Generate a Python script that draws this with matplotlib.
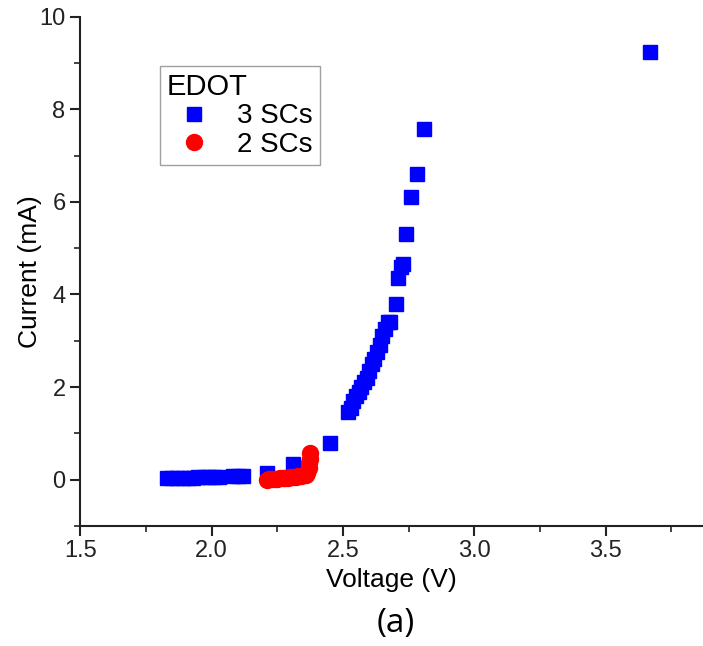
import numpy as np
import matplotlib.pyplot as plt
from matplotlib.ticker import MultipleLocator

plt.rcParams['font.family'] = ['Liberation Sans', 'DejaVu Sans']

# 3 SCs
v3 = [1.83, 1.85, 1.87, 1.89, 1.91, 1.93, 1.95, 1.97, 1.99, 2.01, 2.03,
      2.08, 2.10, 2.12, 2.21, 2.31, 2.45,
      2.52, 2.53, 2.54, 2.55, 2.56, 2.57, 2.58, 2.59, 2.60, 2.61, 2.62,
      2.63, 2.64, 2.65, 2.66, 2.67, 2.68, 2.70, 2.71, 2.72, 2.73, 2.74,
      2.76, 2.78, 2.81, 3.67]
i3 = [0.03, 0.03, 0.03, 0.04, 0.04, 0.04, 0.05, 0.05, 0.05, 0.06, 0.06,
      0.07, 0.08, 0.08, 0.15, 0.33, 0.8,
      1.45, 1.55, 1.7, 1.8, 1.9, 2.0, 2.1, 2.2, 2.35, 2.5, 2.6,
      2.75, 2.9, 3.1, 3.25, 3.4, 3.4, 3.8, 4.35, 4.6, 4.65, 5.3,
      6.1, 6.6, 7.58, 9.25]

# 2 SCs
v2 = [2.21, 2.22, 2.23, 2.24, 2.25, 2.26, 2.27, 2.28, 2.29, 2.30, 2.31,
      2.32, 2.33, 2.34, 2.35, 2.36, 2.365, 2.37, 2.37, 2.375, 2.375]
i2 = [0.0, 0.01, 0.01, 0.02, 0.02, 0.03, 0.03, 0.04, 0.04, 0.05, 0.06,
      0.06, 0.07, 0.08, 0.09, 0.1, 0.15, 0.25, 0.35, 0.45, 0.58]

fig = plt.figure(figsize=(7.03, 6.46), dpi=100)
ax = fig.add_axes([0.114, 0.186, 0.886, 0.788])

ax.plot(v3, i3, 's', color='#0000ff', markersize=10.5, label='3 SCs')
ax.plot(v2, i2, 'o', color='#ff0000', markersize=11.5, label='2 SCs')

ax.set_xlim(1.5, 3.87)
ax.set_ylim(-1, 10)
ax.xaxis.set_major_locator(MultipleLocator(0.5))
ax.xaxis.set_minor_locator(MultipleLocator(0.25))
ax.yaxis.set_major_locator(MultipleLocator(2))
ax.yaxis.set_minor_locator(MultipleLocator(1))
ax.xaxis.set_major_formatter(plt.FormatStrFormatter('%.1f'))

for s in ['top', 'right']:
    ax.spines[s].set_visible(False)
for s in ['left', 'bottom']:
    ax.spines[s].set_linewidth(1.5)
    ax.spines[s].set_color('#222222')
ax.tick_params(which='major', direction='out', length=7, width=1.5, labelsize=17,
               colors='#222222', pad=3.5)
ax.tick_params(which='minor', direction='out', length=4, width=1.2, colors='#222222')

ax.set_xlabel('Voltage (V)', fontsize=19, labelpad=4)
ax.set_ylabel('Current (mA)', fontsize=19, labelpad=-2)

leg = ax.legend(title='EDOT', loc='upper left', bbox_to_anchor=(0.128, 0.904),
                fontsize=20, title_fontsize=21, frameon=True, fancybox=False,
                edgecolor='#888888', borderpad=0.25, handletextpad=0.58,
                labelspacing=0.1, handlelength=1.95, borderaxespad=0)
leg._legend_box.align = 'left'
leg.get_frame().set_linewidth(1.0)

fig.text(0.563, 0.035, '(a)', fontsize=24, family='Open Sans', ha='center', va='center')

fig.savefig('out.png', dpi=100)
